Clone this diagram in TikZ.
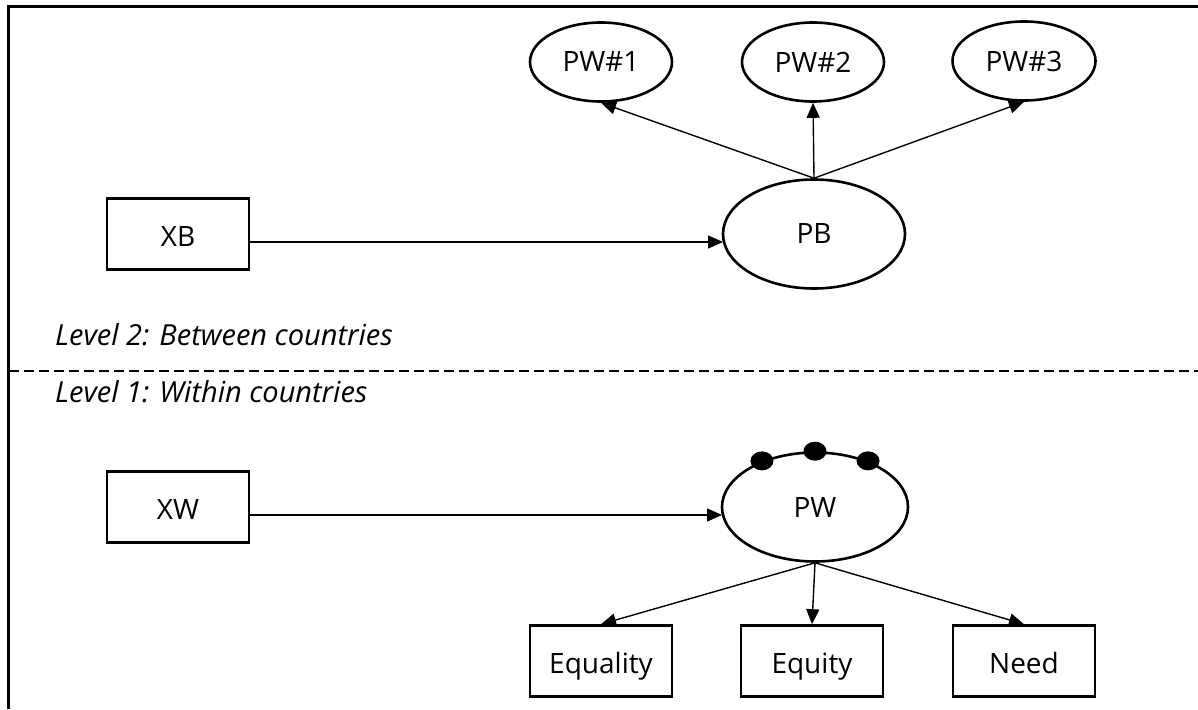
\documentclass[tikz,border=0pt]{standalone}
\usepackage{fontspec}
\setmainfont{Open Sans}
\usetikzlibrary{shapes.geometric,arrows.meta}
\tikzset{
  lat/.style={ellipse,draw,line width=2.6pt,inner sep=0pt,font=\fontsize{28}{32}\selectfont},
  obs/.style={rectangle,draw,line width=2.6pt,inner sep=0pt,minimum width=142pt,minimum height=71pt,text height=25pt,text depth=1pt,font=\fontsize{28}{32}\selectfont},
  conn/.style={line width=1.4pt,-{Triangle[length=15pt,width=13pt]}},
  dotm/.style={ellipse,fill=black,inner sep=0pt,minimum width=23pt,minimum height=19pt},
  lvl/.style={anchor=west,inner sep=0pt,font=\fontsize{29}{32}\selectfont\itshape}
}
\begin{document}
\begin{tikzpicture}[x=1pt,y=-1pt]
\useasboundingbox (0,0) rectangle (1198,709);
% frame
\draw[line width=3pt] (8,709) -- (8,7) -- (1198,7);
\draw[line width=1.4pt,dash pattern=on 10pt off 5pt] (9,371) -- (1198,371);
% level 2
\node[lat,minimum width=142pt,minimum height=79pt] (pw1) at (601,62) {PW\#1};
\node[lat,minimum width=142pt,minimum height=79pt] (pw2) at (813,62) {PW\#2};
\node[lat,minimum width=143pt,minimum height=79pt] (pw3) at (1024,61) {PW\#3};
\node[lat,minimum width=182pt,minimum height=109pt] (pb) at (814,234) {PB};
\node[obs] (xb) at (178,234) {XB};
\coordinate (xbo) at (249,242);
\coordinate (pbi) at (723,242);
\draw[conn] (xbo) -- (pbi);
\draw[conn] (pb.north) -- (pw1.south);
\draw[conn] (pb.north) -- (pw2.south);
\draw[conn] (pb.north) -- (pw3.south);
\node[lvl] (l2) at (55,335) {Level 2: Between countries};
\node[lvl] (l1) at (55,392) {Level 1: Within countries};
% level 1
\node[obs] (xw) at (178,507) {XW};
\node[lat,minimum width=186pt,minimum height=109pt] (pw) at (815,507) {PW};
\coordinate (xwo) at (249,515);
\coordinate (pwi) at (722,515);
\draw[conn] (xwo) -- (pwi);
\node[dotm] (d1) at (pw.139) {};
\node[dotm] (d2) at (pw.north) {};
\node[dotm] (d3) at (pw.41) {};
\node[obs] (eq) at (601,661) {Equality};
\node[obs] (ey) at (812,661) {Equity};
\node[obs] (nd) at (1024,661) {Need};
\draw[conn] (pw.south) -- (eq.north);
\draw[conn] (pw.south) -- (ey.north);
\draw[conn] (pw.south) -- (nd.north);
\end{tikzpicture}
\end{document}
